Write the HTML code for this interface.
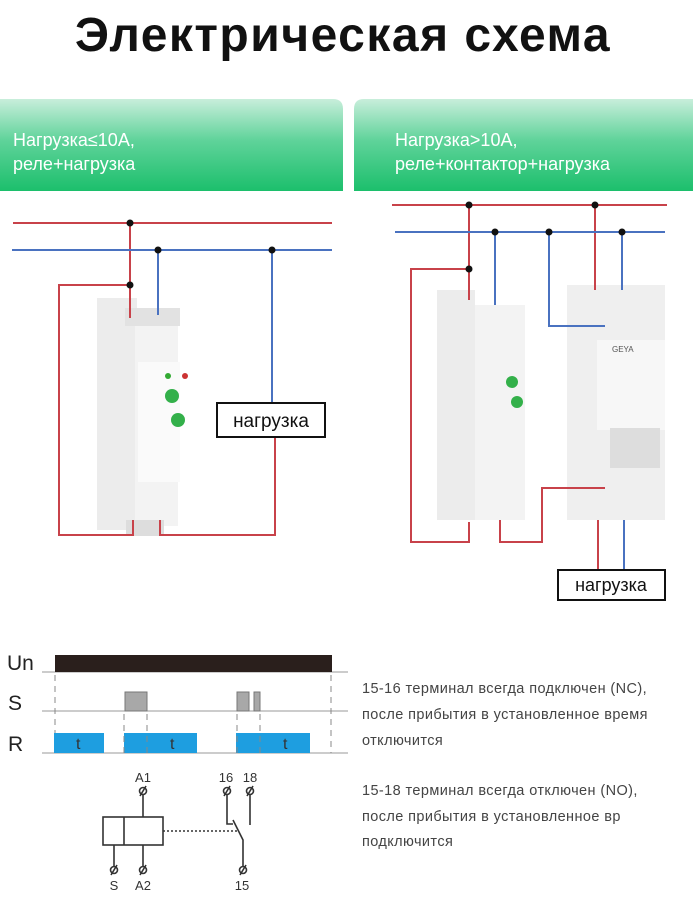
<!DOCTYPE html>
<html><head><meta charset="utf-8"><style>
body{margin:0;background:#fff;width:693px;height:898px;overflow:hidden;font-family:"Liberation Sans","DejaVu Sans",sans-serif}
</style></head><body>
<svg width="693" height="898" xmlns="http://www.w3.org/2000/svg" font-family="Liberation Sans, DejaVu Sans, sans-serif">
<defs>
<linearGradient id="g" x1="0" y1="0" x2="0" y2="1"><stop offset="0" stop-color="#c8eedb"/><stop offset="0.45" stop-color="#5fd39a"/><stop offset="1" stop-color="#1cbf6c"/></linearGradient>
</defs>
<text x="343" y="51" text-anchor="middle" font-size="48" font-weight="bold" letter-spacing="1.5" fill="#111">Электрическая схема</text>
<path d="M0 99 H333 Q343 99 343 109 V191 H0Z" fill="url(#g)"/>
<path d="M364 99 H693 V191 H354 V109 Q354 99 364 99Z" fill="url(#g)"/>
<g fill="#fff" font-size="18"><text x="13" y="146">Нагрузка≤10А,</text><text x="13" y="170">реле+нагрузка</text>
<text x="395" y="146">Нагрузка&gt;10А,</text><text x="395" y="170">реле+контактор+нагрузка</text></g>

<!-- left devices -->
<rect x="97" y="298" width="40" height="232" fill="#ececec"/>
<rect x="125" y="308" width="55" height="18" fill="#e2e2e2"/>
<rect x="135" y="326" width="43" height="200" fill="#f3f3f3"/>
<rect x="138" y="362" width="42" height="120" fill="#fafafa"/>
<circle cx="172" cy="396" r="7" fill="#33b04a"/><circle cx="178" cy="420" r="7" fill="#33b04a"/>
<circle cx="168" cy="376" r="3" fill="#3a3"/><circle cx="185" cy="376" r="3" fill="#c33"/>
<rect x="126" y="520" width="38" height="16" fill="#ddd"/>
<!-- left wires -->
<g fill="none" stroke-width="2">
<path d="M13 223H332M130 223V318M130 285H59V535H133V520M275 437V535H160V520" stroke="#c8424a"/>
<path d="M12 250H332M158 250V315M272 250V403" stroke="#4a72c0"/>
</g>
<g fill="#111"><circle cx="130" cy="223" r="3.5"/><circle cx="130" cy="285" r="3.5"/><circle cx="158" cy="250" r="3.5"/><circle cx="272" cy="250" r="3.5"/></g>
<rect x="217" y="403" width="108" height="34" fill="#fff" stroke="#111" stroke-width="2"/>
<text x="271" y="427" text-anchor="middle" font-size="19" fill="#111">нагрузка</text>

<!-- right devices -->
<rect x="437" y="290" width="38" height="230" fill="#ececec"/>
<rect x="475" y="305" width="50" height="215" fill="#f3f3f3"/>
<circle cx="512" cy="382" r="6" fill="#33b04a"/><circle cx="517" cy="402" r="6" fill="#33b04a"/>
<rect x="567" y="285" width="98" height="235" fill="#efefef"/>
<rect x="597" y="340" width="68" height="90" fill="#f7f7f7"/>
<rect x="610" y="428" width="50" height="40" fill="#ddd"/>
<text x="612" y="352" font-size="8" fill="#555">GEYA</text>
<g fill="none" stroke-width="2">
<path d="M392 205H667M469 205V300M469 269H411V542H469V522M500 520V542H542V488H605M595 205V290M598 520V570" stroke="#c8424a"/>
<path d="M395 232H665M495 232V305M549 232V326H605M622 232V290M624 520V570" stroke="#4a72c0"/>
</g>
<g fill="#111"><circle cx="469" cy="205" r="3.5"/><circle cx="469" cy="269" r="3.5"/><circle cx="595" cy="205" r="3.5"/><circle cx="495" cy="232" r="3.5"/><circle cx="549" cy="232" r="3.5"/><circle cx="622" cy="232" r="3.5"/></g>
<rect x="558" y="570" width="107" height="30" fill="#fff" stroke="#111" stroke-width="2"/>
<text x="611" y="591" text-anchor="middle" font-size="18" fill="#111">нагрузка</text>

<!-- timing -->
<g font-size="21" fill="#222"><text x="7" y="670">Un</text><text x="8" y="710">S</text><text x="8" y="751">R</text></g>
<g stroke="#999" stroke-width="1"><path d="M42 672H348M42 711H348M42 753H348"/></g>
<rect x="55" y="655" width="277" height="17" fill="#2a1f1c"/>
<g fill="#a8a8a8" stroke="#777"><rect x="125" y="692" width="22" height="19"/><rect x="237" y="692" width="12" height="19"/><rect x="254" y="692" width="6" height="19"/></g>
<g fill="#1e9ee0"><rect x="54" y="733" width="50" height="20"/><rect x="124" y="733" width="73" height="20"/><rect x="236" y="733" width="74" height="20"/></g>
<g font-size="16" fill="#333"><text x="76" y="749">t</text><text x="170" y="749">t</text><text x="283" y="749">t</text></g>
<g stroke="#888" stroke-dasharray="6,5"><path d="M55 675V733M124 714V753M147 714V753M237 714V753M260 714V753M331 675V753"/></g>
<!-- schematic -->
<g stroke="#333" stroke-width="1.6" fill="none">
<rect x="103" y="817" width="60" height="28"/><path d="M124 817V845M143 795V817M114 845V866M143 845V866M227 795V824H233M250 795V825M233 820L243 840V866M250 820"/>
<path d="M163 831H237" stroke-dasharray="2,2"/>
<circle cx="143" cy="791" r="3.5"/><circle cx="227" cy="791" r="3.5"/><circle cx="250" cy="791" r="3.5"/><circle cx="114" cy="870" r="3.5"/><circle cx="143" cy="870" r="3.5"/><circle cx="243" cy="870" r="3.5"/>
<path d="M140 796L146 786M224 796L230 786M247 796L253 786M111 875L117 865M140 875L146 865M240 875L246 865"/>
</g>
<g font-size="13" fill="#333" text-anchor="middle"><text x="143" y="782">A1</text><text x="226" y="782">16</text><text x="250" y="782">18</text><text x="114" y="890">S</text><text x="143" y="890">A2</text><text x="242" y="890">15</text></g>
<g font-size="14.5" fill="#444" letter-spacing="0.4"><text x="362" y="693">15-16 терминал всегда подключен (NC),</text><text x="362" y="719">после прибытия в установленное время</text><text x="362" y="745">отключится</text>
<text x="362" y="795">15-18 терминал всегда отключен (NO),</text><text x="362" y="821">после прибытия в установленное вр</text><text x="362" y="846">подключится</text></g>
</svg>
</body></html>
